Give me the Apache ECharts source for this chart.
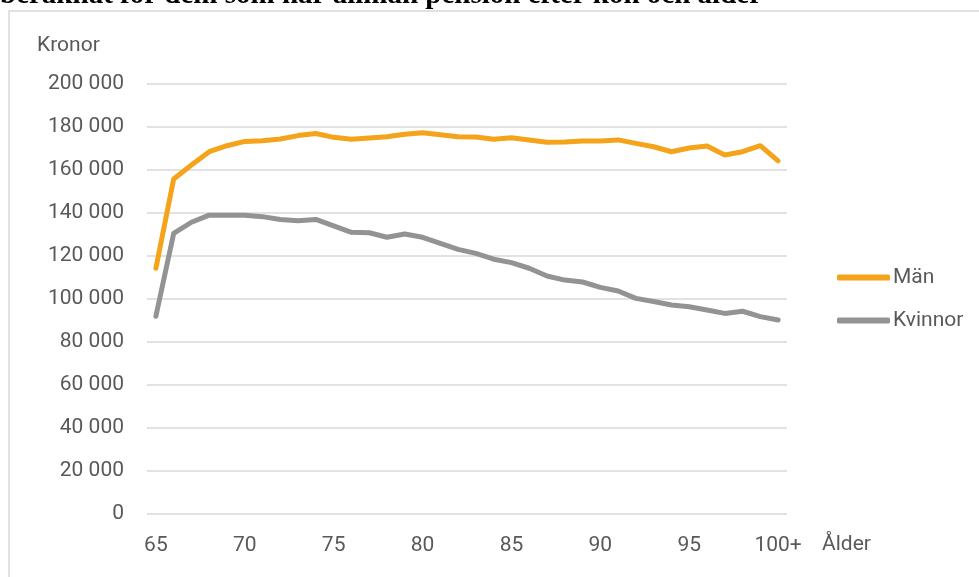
<!DOCTYPE html>
<html>
<head>
<meta charset="utf-8">
<script src="https://cdn.jsdelivr.net/npm/echarts@6/dist/echarts.min.js"></script>
<style>
  html, body { margin: 0; padding: 0; background: #fff; }
  #chart { width: 979px; height: 577px; }
</style>
</head>
<body>
<div id="chart"></div>
<script>
// ålder 65 .. 99, 100+
const ages = ['65', '66', '67', '68', '69', '70', '71', '72', '73', '74',
  '75', '76', '77', '78', '79', '80', '81', '82', '83', '84',
  '85', '86', '87', '88', '89', '90', '91', '92', '93', '94',
  '95', '96', '97', '98', '99', '100+']

const man = [114300, 155800, 162300, 168500, 171300, 173300, 173600, 174400, 176000, 177000,
  175200, 174300, 174900, 175500, 176600, 177300, 176400, 175500, 175300, 174300,
  175000, 174000, 172900, 173000, 173500, 173500, 174000, 172400, 170800, 168500,
  170200, 171200, 167000, 168500, 171300, 164200]

const kvinnor = [92000, 130500, 135700, 139000, 139000, 138900, 138300, 137000, 136400, 137000,
  134000, 131000, 130800, 128700, 130200, 128700, 125900, 123100, 121200, 118500,
  116900, 114300, 110700, 108800, 107900, 105400, 103700, 100300, 98800, 97200,
  96400, 94900, 93300, 94300, 91800, 90200]

const yTicks = { min: 0, max: 200000, interval: 20000 }

const textColor = '#595959'
const labelFont = 'Roboto'

let myChart = echarts.init(document.getElementById('chart'))
myChart.setOption({
  animation: false,
  grid: {
    left: 147,
    right: 192,
    top: 84,
    bottom: 63
  },
  graphic: [
    {
      type: 'rect',
      shape: { x: 9, y: 11, width: 1000, height: 600 },
      style: { fill: 'none', stroke: '#d9d9d9', lineWidth: 1.5 },
      silent: true
    },
    {
      type: 'text',
      left: 0,
      top: -19,
      style: {
        text: 'beräknat för dem som har allmän pension efter kön och ålder',
        font: 'bold 29px "Liberation Serif"',
        fill: '#000'
      }
    },
    {
      type: 'text',
      left: 37,
      top: 35,
      style: { text: 'Kronor', font: '21px ' + labelFont, fill: textColor }
    },
    {
      type: 'text',
      left: 822,
      top: 534,
      style: { text: 'Ålder', font: '21px ' + labelFont, fill: textColor }
    }
  ],
  legend: {
    orient: 'vertical',
    left: 832,
    top: 262,
    itemWidth: 53,
    itemHeight: 6,
    itemGap: 22,
    icon: 'roundRect',
    textStyle: { color: textColor, fontSize: 21, fontFamily: labelFont, padding: [0, 0, 0, -2] },
    data: ['Män', 'Kvinnor']
  },
  xAxis: {
    type: 'category',
    data: ages,
    boundaryGap: true,
    axisLine: { show: false },
    axisTick: { show: false },
    axisLabel: {
      interval: 4,
      margin: 21,
      color: textColor,
      fontSize: 21,
      fontFamily: labelFont
    }
  },
  yAxis: {
    type: 'value',
    min: yTicks.min,
    max: yTicks.max,
    interval: yTicks.interval,
    axisLine: { show: false },
    axisTick: { show: false },
    splitLine: { lineStyle: { color: '#d9d9d9', width: 1.5 } },
    axisLabel: {
      margin: 23,
      color: textColor,
      fontSize: 21,
      fontFamily: labelFont,
      formatter: v => v.toString().replace(/\B(?=(\d{3})+(?!\d))/g, ' ')
    }
  },
  series: [
    {
      name: 'Män',
      type: 'line',
      data: man,
      symbol: 'none',
      color: '#f4a31b',
      lineStyle: { width: 5, cap: 'round', join: 'round' }
    },
    {
      name: 'Kvinnor',
      type: 'line',
      data: kvinnor,
      symbol: 'none',
      color: '#939393',
      lineStyle: { width: 5, cap: 'round', join: 'round' }
    }
  ]
})
</script>
</body>
</html>
